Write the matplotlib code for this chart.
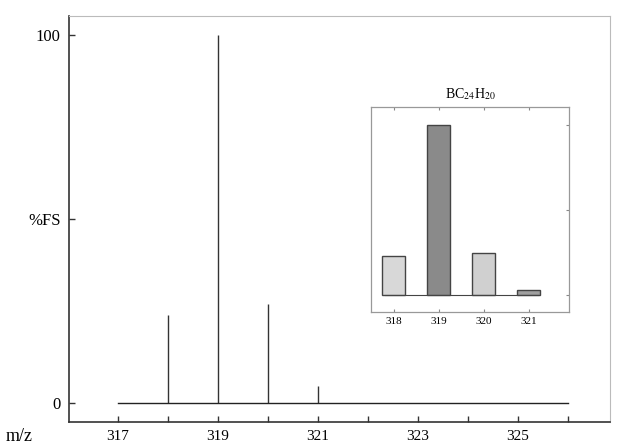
import matplotlib
matplotlib.use("Agg")
import matplotlib.pyplot as plt

# Main spectrum data
peak_mz = [318, 319, 320, 321]
peak_int = [24, 100, 27, 4.5]
baseline_mz = [317, 326]
xtick_vals = [317, 318, 319, 320, 321, 322, 323, 324, 325, 326]
xtick_labels = ["317", "", "319", "", "321", "", "323", "", "325", ""]
ytick_vals = [0, 50, 100]
ytick_labels = ["0", "%FS", "100"]

# Inset (isotope pattern) data
iso_mz = [318, 319, 320, 321]
iso_int = [23, 100, 25, 3]
iso_labels = ["318", "319", "320", "321"]
iso_title = r"BC$_{24}$H$_{20}$"

plt.rcParams["font.family"] = ["Liberation Serif", "DejaVu Serif"]
plt.rcParams["mathtext.fontset"] = "stix"

fig = plt.figure(figsize=(6.18, 4.44), dpi=100)
ax = fig.add_axes([69/618, 1-422/444, (610-69)/618, (422-16)/444])

ax.vlines(peak_mz, 0, peak_int, color="#333333", lw=1.0)
ax.plot(baseline_mz, [0, 0], color="#222222", lw=1.0)

ax.set_xlim(316.02, 326.84)
ax.set_ylim(-5.2, 105.2)
ax.set_xticks(xtick_vals)
ax.set_xticklabels(xtick_labels, fontsize=11)
ax.set_yticks(ytick_vals)
ax.set_yticklabels(ytick_labels, fontsize=12)
ax.tick_params(axis="both", direction="in", length=4, width=1, color="#333333")
ax.tick_params(axis="x", pad=6)
ax.tick_params(axis="y", pad=6)
for s in ["left", "bottom"]:
    ax.spines[s].set_color("#333333")
    ax.spines[s].set_linewidth(1.2)
for s in ["top", "right"]:
    ax.spines[s].set_color("#bbbbbb")
    ax.spines[s].set_linewidth(0.8)
fig.text(6/618, 1-436/444, "m/z", fontsize=13, ha="left", va="center")

# Inset
ins = fig.add_axes([371/618, 1-312/444, (569-371)/618, (312-107)/444])
colors = ["#d8d8d8", "#8a8a8a", "#d0d0d0", "#a0a0a0"]
ins.bar(iso_mz, iso_int, width=0.52, color=colors, edgecolor="#444444", linewidth=1.0)
ins.plot([317.8, 321.2], [0, 0], color="#444444", lw=0.8)
ins.set_xlim(317.5, 321.9)
ins.set_ylim(-10, 110.6)
ins.set_xticks(iso_mz)
ins.set_xticklabels(iso_labels, fontsize=8)
ins.set_yticks([0, 50, 100])
ins.set_yticklabels([])
ins.tick_params(axis="both", direction="in", length=2.5, color="#888888",
                top=True, right=True, left=False)
for s in ins.spines.values():
    s.set_color("#999999")
    s.set_linewidth(0.9)
ins.set_title(iso_title, fontsize=10, pad=6)

fig.savefig("out.png", dpi=100)
